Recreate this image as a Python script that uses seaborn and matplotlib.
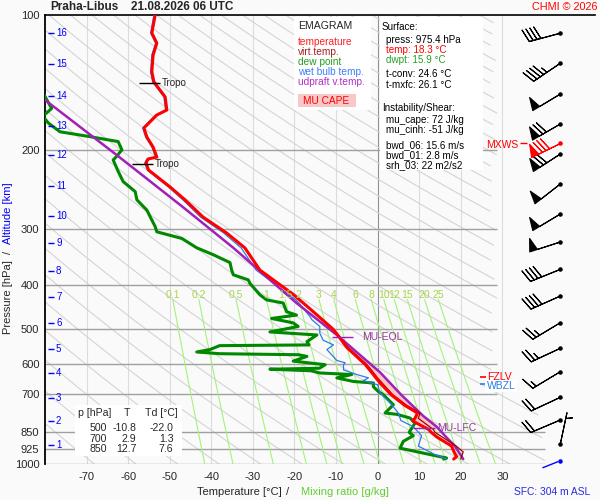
import numpy as np
import matplotlib
matplotlib.use('Agg')
import matplotlib.pyplot as plt
from matplotlib.patches import Rectangle
import seaborn as sns

# estilo base
sns.set_style('white')
plt.rcParams['font.family'] = ['Liberation Sans', 'DejaVu Sans']
plt.rcParams['axes.unicode_minus'] = False

temp_p = [100, 109.7, 115.5, 122.8, 133.9, 141.0, 152.2, 162.8, 167.0, 178.5, 187.0, 196.8,
          207.2, 209.3, 213.6, 221.4, 241.6, 258.2, 281.8, 305.9, 330.3, 370, 419, 450, 477,
          500, 516, 550, 600, 619, 643, 660, 700, 740, 770, 791, 800, 811, 838, 850, 870,
          912, 940, 963, 975]
temp_t = [-53.5, -54.3, -53.1, -54.0, -54.3, -53.8, -51.1, -50.7, -53.1, -56.2, -55.5, -54.0,
          -53.1, -55.2, -55.7, -55.1, -49.9, -46.3, -42.0, -36.3, -31.9, -28.3, -20.3, -16.4, -13.3,
          -10.8, -9.6, -7.4, -3.0, -1.8, -0.4, 0.6, 3.2, 6.5, 9.6, 9.0, 8.4, 9.4, 12.3, 12.9, 14.2,
          17.8, 18.4, 19.0, 18.3]

virt_p = [500, 550, 600, 619, 643, 660, 700, 740, 770, 791, 838, 850, 912, 940, 963, 975]
virt_t = [-10.6, -7.1, -2.6, -1.4, 0.0, 1.1, 3.6, 7.0, 10.2, 9.8, 13.4, 13.8, 18.9, 20.6, 20.2, 20.0]

dew_p = [149, 161.5, 168, 174, 182, 186.6, 191.4, 199.7, 206.6, 210.3, 223, 235, 247.4, 258,
         272, 296, 304, 314.5, 330, 342, 356, 370, 379, 389, 396, 420, 431, 438, 458, 466, 474,
         485, 494, 500, 508, 516, 534, 543, 545, 556, 563, 568, 571, 576, 590, 601, 612, 615,
         620, 627, 632, 643, 655, 660, 673, 690, 700, 738, 770, 775, 790, 811, 850, 865, 890,
         922, 970, 975]
dew_t = [-80.5, -78.4, -80.5, -79.2, -76.4, -69.2, -62.4, -61.5, -62.8, -63.6, -62.4, -61.2,
         -58.3, -57.9, -55.5, -53.5, -53.1, -47.1, -43.5, -39.5, -35.5, -35.1, -34.7, -31.1,
         -30.7, -28.3, -26.7, -22.7, -21.9, -19.5, -25.5, -20.3, -19.1, -22.0, -25.9, -14.6,
         -17.0, -16.5, -38.0, -40.3, -43.5, -38.0, -19.0, -17.0, -20.3, -12.6, -14.0, -25.9,
         -16.0, -13.9, -6.2, -9.8, -5.8, -1.0, -1.0, 0.2, 1.3, 3.8, 1.8, 4.6, 7.8, 9.0, 7.6,
         8.6, 6.2, 5.4, 16.6, 15.9]

wb_p = [100, 109.7, 115.5, 122.8, 133.9, 141.0, 152.2, 162.8, 167.0, 178.5, 187.0, 196.8,
        207.2, 209.3, 213.6, 221.4, 241.6, 258.2, 281.8, 305.9, 330.3, 370, 419, 431, 469, 477,
        494, 511, 530, 543, 556, 588, 595, 601, 617, 632, 643, 652, 666, 695, 731, 770, 800,
        826, 865, 912, 950, 975]
wb_t = [-53.8, -54.6, -53.4, -54.3, -54.6, -54.1, -51.4, -51.0, -53.4, -56.5, -55.8, -54.3,
        -53.4, -55.5, -56.0, -55.4, -50.3, -46.8, -42.6, -37.0, -32.8, -29.2, -21.4, -19.6,
        -16.3, -15.8, -13.9, -13.9, -13.1, -10.6, -12.2, -9.8, -7.8, -8.2, -8.2, -5.0, -2.2,
        -3.4, 0.0, 0.6, 3.0, 5.0, 5.6, 8.6, 10.6, 9.8, 13.5, 16.6]

parcel_p = [154.6, 206.6, 267.0, 330.0, 438, 516, 625, 700, 782, 826, 865, 912, 975]
parcel_t = [-80.0, -62.3, -47.0, -34.7, -19.5, -9.8, 0.6, 5.6, 11.0, 14.2, 16.2, 18.6, 20.6]

# viento (lado derecho)
wind_p = [109.8, 128.1, 150.0, 174.9, 204.0, 237.9, 277.5, 320.3, 368.6, 422.6, 484.6,
          552.4, 623.0, 710.4, 798.0, 902.6]
wind_dir = [255, 236, 239, 240, 237, 232, 239, 252, 248, 246, 239, 245, 239, 245, 247, 12]
wind_spd = [40, 45, 50, 70, 70, 50, 50, 50, 40, 40, 25, 25, 15, 20, 20, 5]
mxws_p, mxws_dir, mxws_spd = 193.1, 244, 80
sfc_p = 983.3

# altitud (km) sobre el eje de presion
alt_km = [1, 2, 3, 4, 5, 6, 7, 8, 9, 10, 11, 12, 13, 14, 15, 16]
alt_p = [907.1, 802.0, 711.9, 628.1, 553.5, 484.6, 424.1, 371.7, 321.6, 279.9, 240.0, 205.0,
         176.7, 151.3, 128.8, 109.8]

mix_ratios = [0.1, 0.2, 0.5, 1, 1.5, 2, 3, 4, 6, 8, 10, 12, 15, 20, 25]
theta_lines = list(range(205, 600, 10))

p_ticks = [100, 200, 300, 400, 500, 600, 700, 850, 925, 1000]
t_ticks = list(range(-70, 31, 10))

table_rows = [('500', '-10.8', '-22.0'), ('700', '2.9', '1.3'), ('850', '12.7', '7.6')]

# ---- figura ----
W, H = 600, 500
fig = plt.figure(figsize=(6, 5), dpi=100, facecolor='#fafafa')
ax = fig.add_axes([45 / W, 36 / H, 550 / W, 449 / H])
ax.set_facecolor('#fafafa')
ax.set_yscale('log')
ax.set_xlim(-80, 52.3)
ax.set_ylim(1000, 100)


def tx(x):
    # pixel x -> temperatura
    return -80 + (x - 45) / 4.157


def ftext(x, y, s, **kw):
    kw.setdefault('va', 'center')
    fig.text(x / W, 1 - y / H, s, **kw)


# rejilla
for t in t_ticks:
    ax.vlines(t, 100, 1000, color='#909090' if t == 0 else '#dcdcdc', lw=0.8, zorder=1)
for p in [200, 300, 400, 500, 600, 700]:
    ax.hlines(p, -80, 28.7, color='#a0a0a0', lw=1, zorder=2)
for p in [850, 925, 1000]:
    ax.hlines(p, -80, 40.3, color='#a0a0a0', lw=1, zorder=2)

# adiabatas secas
pp = np.geomspace(100, 1000, 120)
lim = np.where(pp < 705, 28.7, 40.3)
for th in theta_lines:
    tt = th * (pp / 1000) ** 0.286 - 273.15
    tt = np.where(tt <= lim, tt, np.nan)
    ax.plot(tt, pp, color='#d4d4d4', lw=0.8, zorder=1)

# lineas de razon de mezcla
pm = np.geomspace(430, 1000, 40)
for w in mix_ratios:
    e = w * pm / (622 + w)
    lg = np.log(e / 6.112)
    td = 243.5 * lg / (17.67 - lg)
    ax.plot(td, pm, color='#a4f27a', lw=0.8, zorder=2)
    ftext(45 + (td[0] + 80) * 4.157, 295, f'{w:g}', ha='center', fontsize=7.5, color='#a8d44c')

# cajas blancas
def box(x0, y0, x1, y1, fc='white', z=3):
    ax.add_patch(Rectangle((x0 / W, 1 - y1 / H), (x1 - x0) / W, (y1 - y0) / H,
                           transform=fig.transFigure, fc=fc, ec='none', zorder=z, clip_on=False))

box(294, 17, 371, 110)
box(380, 17, 483, 170)
box(75, 405, 182, 456)
box(298, 94, 356, 107, fc='#f8c8c8', z=4)

# area CAPE
cape_pp = [p for p in parcel_p if 516 <= p <= 838]
cape_pt = [t for p, t in zip(parcel_p, parcel_t) if 516 <= p <= 838]
env_pp = [p for p in temp_p if 516 <= p <= 838][::-1]
env_pt = [t for p, t in zip(temp_p, temp_t) if 516 <= p <= 838][::-1]
ax.fill(cape_pt + env_pt, cape_pp + env_pp, color='#ffc4c4', lw=0, zorder=4)

# perfiles
sns.lineplot(x=dew_t, y=dew_p, sort=False, estimator=None, color='#008800', lw=2.2, ax=ax, zorder=5)
sns.lineplot(x=wb_t, y=wb_p, sort=False, estimator=None, color='#2a7de8', lw=0.9, ax=ax, zorder=6)
sns.lineplot(x=parcel_t, y=parcel_p, sort=False, estimator=None, color='#a020b8', lw=1.8, ax=ax, zorder=7)
sns.lineplot(x=virt_t, y=virt_p, sort=False, estimator=None, color='#a00000', lw=0.9, ax=ax, zorder=7)
sns.lineplot(x=temp_t, y=temp_p, sort=False, estimator=None, color='#ff0000', lw=2.2, ax=ax, zorder=8)

# tropopausa, niveles
for p, x0, x1, xt in [(141.5, 139.3, 160, 161.7), (214.8, 132.3, 153.3, 155)]:
    ax.hlines(p, tx(x0), tx(x1), color='black', lw=1, zorder=9)
    ax.text(tx(xt), p, 'Tropo', fontsize=7, va='center', zorder=9)
ax.hlines(522.2, tx(331.7), tx(353), color='#a020b8', lw=1, zorder=9)
ax.text(tx(362), 522.2, 'MU-EQL', fontsize=7.5, va='center', color='#993399', zorder=9)
ax.hlines(832.6, tx(413), tx(435), color='#a020b8', lw=1, zorder=9)
ax.text(tx(437), 832.6, 'MU-LFC', fontsize=7.5, va='center', color='#993399', zorder=9)

ax.hlines(641, tx(480), tx(486), color='red', lw=1.2, zorder=9)
ax.text(tx(487), 640, 'FZLV', fontsize=7.5, va='center', color='red', zorder=9)
ax.hlines(664, tx(480), tx(486), color='#2a7de8', lw=1.2, zorder=10)
ax.text(tx(486.5), 670, 'WBZL', fontsize=7.5, va='center', color='#2a7de8', zorder=10,
        bbox=dict(fc='white', ec='none', pad=1.0))
ax.text(tx(518), 194.5, 'MXWS', fontsize=7.5, va='center', ha='right', color='red', zorder=9)
ax.hlines(193.1, tx(520), tx(527), color='red', lw=1, zorder=9)

# barbas de viento
xb = tx(560.3)
d = np.radians(wind_dir)
u = -np.array(wind_spd) * np.sin(d)
v = -np.array(wind_spd) * np.cos(d)
ax.barbs(np.full(len(wind_p), xb), wind_p, u, v, length=6.8, lw=0.8, color='black', zorder=9)
ax.scatter(np.full(len(wind_p), xb), wind_p, s=5, color='black', zorder=10)
dm = np.radians(mxws_dir)
ax.barbs([xb], [mxws_p], [-mxws_spd * np.sin(dm)], [-mxws_spd * np.cos(dm)],
         length=6.8, lw=0.8, color='red', zorder=10)
ax.scatter([xb], [mxws_p], s=5, color='red', zorder=11)
ax.annotate('', xy=(xb, sfc_p), xytext=(-20, -8), textcoords='offset pixels',
            arrowprops=dict(arrowstyle='-', color='blue', lw=1), zorder=10)
ax.scatter([xb], [sfc_p], s=5, color='blue', zorder=11)

# altitud
ax.hlines(alt_p, tx(47.5), tx(53.5), color='blue', lw=1, zorder=9)
for km, p in zip(alt_km, alt_p):
    ax.text(tx(56), p, str(km), fontsize=7, color='blue', va='center', zorder=9)

# ejes
ax.set_yticks(p_ticks)
ax.set_yticklabels([str(p) for p in p_ticks])
ax.yaxis.set_minor_locator(matplotlib.ticker.NullLocator())
ax.set_xticks(t_ticks)
ax.set_xticklabels([str(t) for t in t_ticks])
ax.tick_params(axis='both', length=0, labelsize=8)
ax.tick_params(axis='y', pad=4)
ax.tick_params(axis='x', pad=5.5)
for s in ['right', 'bottom']:
    ax.spines[s].set_visible(False)
ax.spines['left'].set_color('black')
ax.spines['left'].set_linewidth(1.3)
ax.spines['top'].set_color('black')
ax.spines['top'].set_linewidth(1.2)

# titulos y etiquetas
ftext(50, 7.5, 'Praha-Libus', fontsize=8.5, fontweight='bold')
ftext(131, 7.5, '21.08.2026 06 UTC', fontsize=8.5, fontweight='bold')
ftext(597, 7.5, 'CHMI \u00a9 2026', fontsize=7.8, color='red', ha='right')
ftext(8, 213, 'Altitude [km]', fontsize=8, color='blue', rotation=90, ha='center')
ftext(8, 252, '/', fontsize=8, rotation=90, ha='center')
ftext(8, 297, 'Pressure [hPa]', fontsize=8, rotation=90, ha='center')
ftext(239, 492, 'Temperature [\u00b0C]', fontsize=8, ha='center')
ftext(288, 492, '/', fontsize=8, ha='center')
ftext(345, 492, 'Mixing ratio [g/kg]', fontsize=8, ha='center', color='#66cc33')
ftext(590, 492, 'SFC: 304 m ASL', fontsize=7.4, ha='right', color='#2a2ae0')

# leyenda
ftext(298, 26, 'EMAGRAM', fontsize=7.6)
legend_items = [('temperature', '#ff2020'), ('virt.temp.', '#a02020'), ('dew point', '#22a022'),
                ('wet bulb temp.', '#3a7fff'), ('udpraft v.temp.', '#b030c8')]
for i, (s, c) in enumerate(legend_items):
    ftext(298, 41.7 + 10 * i, s, fontsize=7.3, color=c)
ftext(303, 101, 'MU CAPE', fontsize=7.3, color='red')

surf = [(382, 27, 'Surface:', 'black'), (386, 40, 'press: 975.4 hPa', 'black'),
        (386, 50, 'temp: 18.3 \u00b0C', 'red'), (386, 60, 'dwpt: 15.9 \u00b0C', '#22a022'),
        (386, 74, 't-conv: 24.6 \u00b0C', 'black'), (386, 84.5, 't-mxfc: 26.1 \u00b0C', 'black'),
        (382, 108, 'Instability/Shear:', 'black'), (386, 120, 'mu_cape: 72 J/kg', 'black'),
        (386, 130, 'mu_cinh: -51 J/kg', 'black'), (386, 145, 'bwd_06: 15.6 m/s', 'black'),
        (386, 155, 'bwd_01: 2.8 m/s', 'black'), (386, 165, 'srh_03: 22 m2/s2', 'black')]
for x, y, s, c in surf:
    ftext(x, y, s, fontsize=7.1, color=c)

# tabla
ftext(78, 413, 'p [hPa]', fontsize=7.6)
ftext(127, 413, 'T', fontsize=7.6, ha='center')
ftext(145, 413, 'Td [\u00b0C]', fontsize=7.6)
for i, (p, t, td) in enumerate(table_rows):
    y = 428.3 + 10.3 * i
    ftext(107, y, p, fontsize=7.6, ha='right')
    ftext(136.5, y, t, fontsize=7.6, ha='right')
    ftext(173.5, y, td, fontsize=7.6, ha='right')

fig.savefig('out.png', dpi=100, facecolor=fig.get_facecolor())
